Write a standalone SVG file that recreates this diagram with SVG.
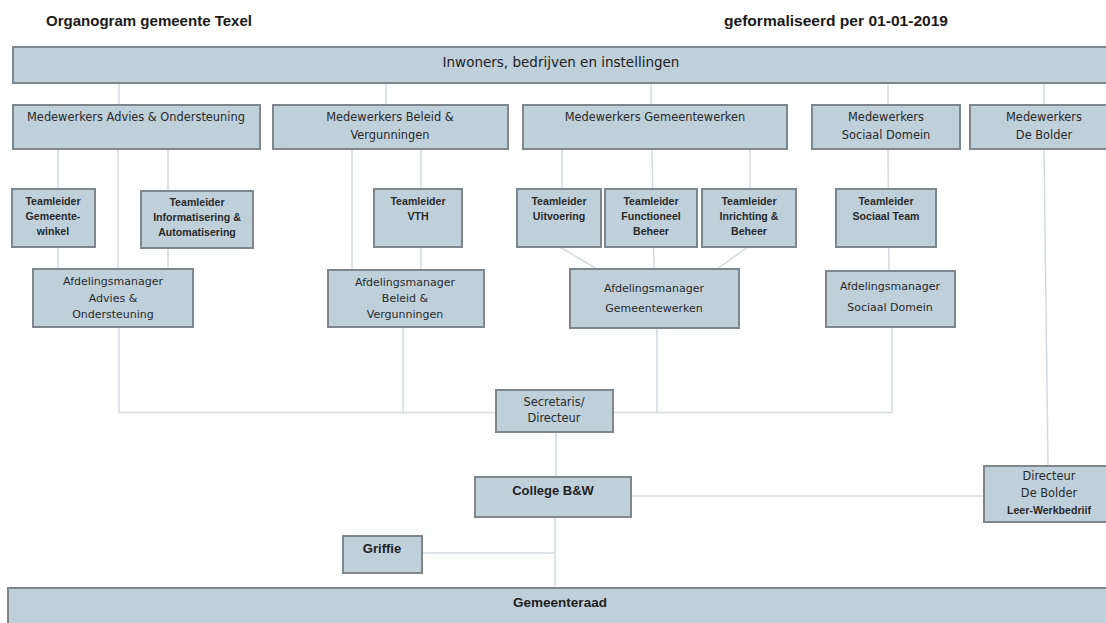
<svg xmlns="http://www.w3.org/2000/svg" width="1106" height="623" viewBox="0 0 1106 623">
<style>
.bx{fill:#bfd0db;stroke:#7d878d;stroke-width:2}
.ln{stroke:#d3dadf;stroke-width:1.5;fill:none}
.title{font-family:"Liberation Sans",Arial,sans-serif;font-weight:bold;font-size:14px;fill:#1a1a1a}
.hdr{font-family:"DejaVu Sans",sans-serif;font-size:13.5px;fill:#222;text-anchor:middle}
.mw{font-family:"DejaVu Sans",sans-serif;font-size:11.4px;fill:#2a2a2a;text-anchor:middle}
.tl{font-family:"Liberation Sans",Arial,sans-serif;font-weight:bold;font-size:10.6px;fill:#2a2a2a;text-anchor:middle}
.am{font-family:"DejaVu Sans",sans-serif;font-size:11px;fill:#2a2a2a;text-anchor:middle}
.sd{font-family:"DejaVu Sans",sans-serif;font-size:11.4px;fill:#2a2a2a;text-anchor:middle}
.big{font-family:"Liberation Sans",Arial,sans-serif;font-weight:bold;font-size:13px;fill:#222;text-anchor:middle}
</style>
<rect width="1106" height="623" fill="#ffffff"/>
<text class="title" x="46" y="26" textLength="206" lengthAdjust="spacingAndGlyphs">Organogram gemeente Texel</text>
<text class="title" x="724" y="26" textLength="224" lengthAdjust="spacingAndGlyphs">geformaliseerd per 01-01-2019</text>

<g id="connectors">
<line class="ln" x1="119" y1="83" x2="119" y2="105"/>
<line class="ln" x1="386" y1="83" x2="386" y2="105"/>
<line class="ln" x1="651" y1="83" x2="651" y2="105"/>
<line class="ln" x1="888" y1="83" x2="888" y2="105"/>
<line class="ln" x1="1044" y1="83" x2="1044" y2="105"/>
<line class="ln" x1="58" y1="149" x2="58" y2="269"/>
<line class="ln" x1="118" y1="149" x2="118" y2="269"/>
<line class="ln" x1="168" y1="149" x2="168" y2="269"/>
<line class="ln" x1="119" y1="327" x2="119" y2="412.5"/>
<line class="ln" x1="352" y1="149" x2="352" y2="270"/>
<line class="ln" x1="421" y1="149" x2="421" y2="270"/>
<line class="ln" x1="403" y1="327" x2="403" y2="412.5"/>
<line class="ln" x1="562" y1="149" x2="562" y2="189"/>
<line class="ln" x1="652" y1="149" x2="654" y2="269"/>
<line class="ln" x1="750" y1="149" x2="750" y2="189"/>
<line class="ln" x1="560" y1="247" x2="597" y2="269"/>
<line class="ln" x1="748" y1="247" x2="717" y2="269"/>
<line class="ln" x1="657" y1="328" x2="657" y2="412.5"/>
<line class="ln" x1="888" y1="149" x2="889" y2="271"/>
<line class="ln" x1="892" y1="327" x2="892" y2="412.5"/>
<polyline class="ln" points="119,412.5 496,412.5"/>
<polyline class="ln" points="613,412.5 892,412.5"/>
<line class="ln" x1="1044" y1="149" x2="1048" y2="466"/>
<line class="ln" x1="556" y1="432" x2="556" y2="477"/>
<line class="ln" x1="555" y1="517" x2="555" y2="588"/>
<line class="ln" x1="422" y1="553" x2="555" y2="553"/>
<line class="ln" x1="631" y1="496" x2="984" y2="496"/>
</g>

<g id="inwoners"><rect class="bx" x="13" y="47" width="1100" height="36"/>
<text class="hdr" x="561" y="67">Inwoners, bedrijven en instellingen</text></g>

<g id="mw-advies"><rect class="bx" x="13" y="105" width="247" height="44"/>
<text class="mw" x="136" y="121">Medewerkers Advies &amp; Ondersteuning</text></g>
<g id="mw-beleid"><rect class="bx" x="273" y="105" width="235" height="44"/>
<text class="mw" x="390" y="121">Medewerkers Beleid &amp;</text>
<text class="mw" x="390" y="139">Vergunningen</text></g>
<g id="mw-gemeentewerken"><rect class="bx" x="523" y="105" width="264" height="44"/>
<text class="mw" x="655" y="121">Medewerkers Gemeentewerken</text></g>
<g id="mw-sociaal"><rect class="bx" x="812" y="105" width="148" height="44"/>
<text class="mw" x="886" y="121">Medewerkers</text>
<text class="mw" x="886" y="139">Sociaal Domein</text></g>
<g id="mw-bolder"><rect class="bx" x="970" y="105" width="148" height="44"/>
<text class="mw" x="1044" y="121">Medewerkers</text>
<text class="mw" x="1044" y="139">De Bolder</text></g>

<g id="tl-gemeentewinkel"><rect class="bx" x="12" y="189" width="83" height="58"/>
<text class="tl" x="53" y="205">Teamleider</text>
<text class="tl" x="53" y="220">Gemeente-</text>
<text class="tl" x="53" y="235">winkel</text></g>
<g id="tl-informatisering"><rect class="bx" x="141" y="191" width="112" height="57"/>
<text class="tl" x="197" y="206">Teamleider</text>
<text class="tl" x="197" y="221">Informatisering &amp;</text>
<text class="tl" x="197" y="236">Automatisering</text></g>
<g id="tl-vth"><rect class="bx" x="374" y="189" width="88" height="58"/>
<text class="tl" x="418" y="205">Teamleider</text>
<text class="tl" x="418" y="220">VTH</text></g>
<g id="tl-uitvoering"><rect class="bx" x="517" y="189" width="84" height="58"/>
<text class="tl" x="559" y="205">Teamleider</text>
<text class="tl" x="559" y="220">Uitvoering</text></g>
<g id="tl-functioneel"><rect class="bx" x="605" y="189" width="92" height="58"/>
<text class="tl" x="651" y="205">Teamleider</text>
<text class="tl" x="651" y="220">Functioneel</text>
<text class="tl" x="651" y="235">Beheer</text></g>
<g id="tl-inrichting"><rect class="bx" x="702" y="189" width="94" height="58"/>
<text class="tl" x="749" y="205">Teamleider</text>
<text class="tl" x="749" y="220">Inrichting &amp;</text>
<text class="tl" x="749" y="235">Beheer</text></g>
<g id="tl-sociaal"><rect class="bx" x="836" y="189" width="100" height="58"/>
<text class="tl" x="886" y="205">Teamleider</text>
<text class="tl" x="886" y="220">Sociaal Team</text></g>

<g id="am-advies"><rect class="bx" x="33" y="269" width="160" height="58"/>
<text class="am" x="113" y="285">Afdelingsmanager</text>
<text class="am" x="113" y="302">Advies &amp;</text>
<text class="am" x="113" y="318">Ondersteuning</text></g>
<g id="am-beleid"><rect class="bx" x="328" y="270" width="156" height="57"/>
<text class="am" x="405" y="286">Afdelingsmanager</text>
<text class="am" x="405" y="302">Beleid &amp;</text>
<text class="am" x="405" y="318">Vergunningen</text></g>
<g id="am-gemeentewerken"><rect class="bx" x="570" y="269" width="169" height="59"/>
<text class="am" x="654" y="292">Afdelingsmanager</text>
<text class="am" x="654" y="312">Gemeentewerken</text></g>
<g id="am-sociaal"><rect class="bx" x="826" y="271" width="129" height="56"/>
<text class="am" x="890" y="290">Afdelingsmanager</text>
<text class="am" x="890" y="311">Sociaal Domein</text></g>

<g id="secretaris"><rect class="bx" x="496" y="390" width="117" height="42"/>
<text class="sd" x="554" y="406">Secretaris/</text>
<text class="sd" x="554" y="422">Directeur</text></g>
<g id="college"><rect class="bx" x="475" y="477" width="156" height="40"/>
<text class="big" x="553" y="495">College B&amp;W</text></g>
<g id="directeur-bolder"><rect class="bx" x="984" y="466" width="130" height="56"/>
<text class="sd" x="1049" y="480">Directeur</text>
<text class="sd" x="1049" y="497">De Bolder</text>
<text class="tl" x="1049" y="514">Leer-Werkbedriif</text></g>
<g id="griffie"><rect class="bx" x="343" y="536" width="79" height="37"/>
<text class="big" x="382" y="553">Griffie</text></g>
<g id="gemeenteraad"><rect class="bx" x="8" y="588" width="1110" height="40"/>
<text class="big" x="560" y="607" style="font-size:13.5px">Gemeenteraad</text></g>
</svg>
